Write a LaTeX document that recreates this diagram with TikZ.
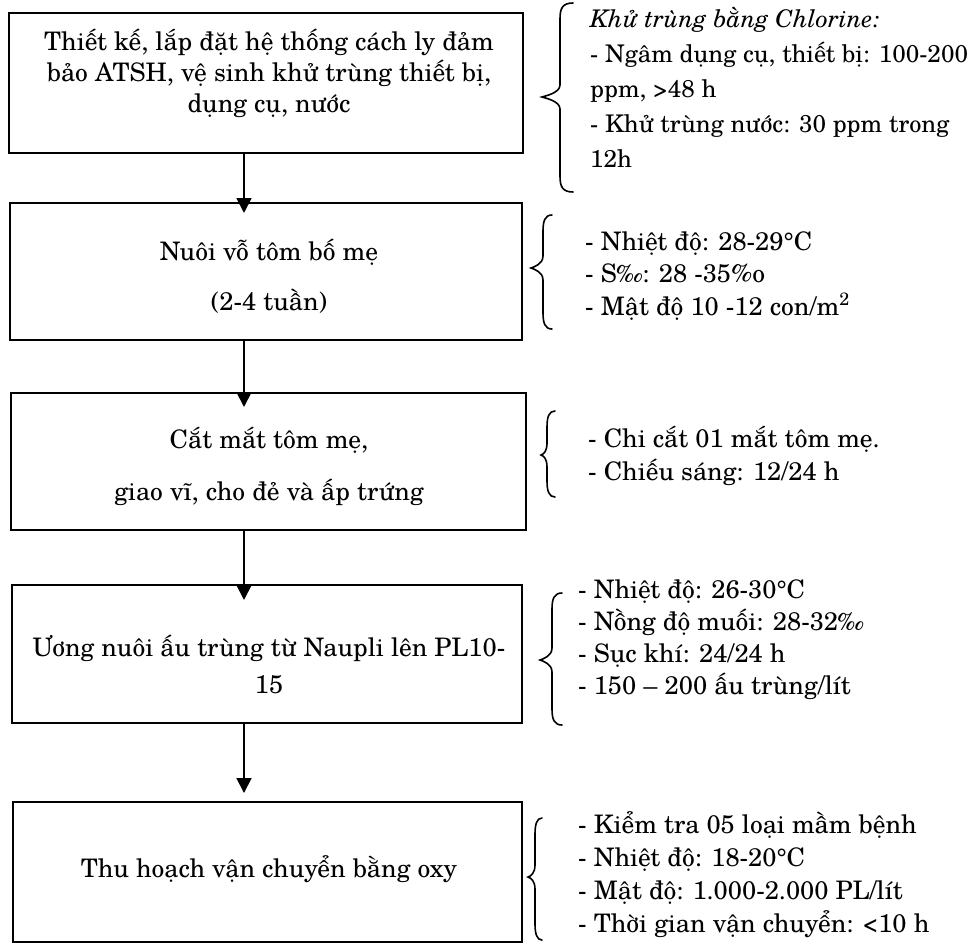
\documentclass[tikz,border=0pt]{standalone}
\usepackage{fontspec}
\setmainfont{TeX Gyre Schola}
\usetikzlibrary{arrows.meta}
\begin{document}
\begin{tikzpicture}[x=1pt,y=-1pt,
  box/.style={draw, line width=2.4pt, inner sep=0pt},
  txt/.style={font=\fontsize{25.5}{31}\selectfont, align=center, anchor=base, inner sep=0pt},
  rt/.style={font=\fontsize{25.5}{#1}\selectfont, align=left, anchor=base west, inner sep=0pt},
  arr/.style={line width=1.8pt, -{Triangle[width=15pt,length=15pt]}},
  bracestyle/.style={line width=1.6pt, line cap=round},
  pics/cbrace/.style n args={6}{code={
    \draw[bracestyle] (#3,#4) .. controls (#2+2,#4) and (#2,#4+6) .. (#2,#4+16)
      -- (#2,#5-12)
      .. controls (#2,#5-4) and (#1+3,#5-1) .. (#1,#5)
      .. controls (#1+3,#5+1) and (#2,#5+4) .. (#2,#5+12)
      -- (#2,#6-16)
      .. controls (#2,#6-6) and (#2+2,#6) .. (#3,#6);
  }}]
\useasboundingbox (0,0) rectangle (973,945);

% boxes
\node[box, minimum width=514pt, minimum height=140pt] (b1) at (266,83) {};
\node[box, minimum width=512pt, minimum height=137pt] (b2) at (266,271.5) {};
\node[box, minimum width=515pt, minimum height=137pt] (b3) at (268.5,461.5) {};
\node[box, minimum width=510pt, minimum height=138pt] (b4) at (267,654) {};
\node[box, minimum width=509pt, minimum height=140pt] (b5) at (267.5,872) {};

% box texts (anchor = baseline of last line)
\node[txt] (t1) at (269,112) {Thiết kế, lắp đặt hệ thống cách ly đảm\\bảo ATSH, vệ sinh khử trùng thiết bị,\\dụng cụ, nước};
\node[txt] (t2) at (269,310) {Nuôi vỗ tôm bố mẹ\\[19pt](2-4 tuần)};
\node[txt] (t3) at (269,500) {Cắt mắt tôm mẹ,\\[21pt]giao vĩ, cho đẻ và ấp trứng};
\node[txt] (t4) at (269,693) {Ương nuôi ấu trùng từ Naupli lên PL10-\\[6pt]15};
\node[txt] (t5) at (269,877) {Thu hoạch vận chuyển bằng oxy};

% arrows
\coordinate (e1) at (244,213);
\coordinate (e2) at (244,407);
\coordinate (e3) at (244,600);
\coordinate (e4) at (244,793);
\draw[arr] (b1.south -| e1) -- (e1);
\draw[arr] (b2.south -| e2) -- (e2);
\draw[arr] (b3.south -| e3) -- (e3);
\draw[arr] (b4.south -| e4) -- (e4);

% braces
\pic at (0,0) {cbrace={542}{560}{573}{3}{97}{192}};
\pic at (0,0) {cbrace={531}{543}{552}{215}{268}{329}};
\pic at (0,0) {cbrace={541}{547}{555}{411}{455}{497}};
\pic at (0,0) {cbrace={540}{552}{562}{593}{660}{725}};
\pic at (0,0) {cbrace={528}{535}{542}{818}{877}{940}};

% side notes (anchor = baseline of last line)
\node[rt=35, font=\fontsize{24.3}{35}\selectfont] (n1) at (590,167) {{\itshape Khử trùng bằng Chlorine:}\\- Ngâm dụng cụ, thiết bị: 100-200\\ppm, >48 h\\- Khử trùng nước: 30 ppm trong\\12h};
\node[rt=32.5] (n2) at (585,315) {- Nhiệt độ: 28-29°C\\- S‰: 28 -35\%o\\- Mật độ 10 -12 con/m\textsuperscript{2}};
\node[rt=33] (n3) at (588,480) {- Chi cắt 01 mắt tôm mẹ.\\- Chiếu sáng: 12/24 h};
\node[rt=32] (n4) at (578,694) {- Nhiệt độ: 26-30°C\\- Nồng độ muối: 28-32‰\\- Sục khí: 24/24 h\\- 150 – 200 ấu trùng/lít};
\node[rt=33] (n5) at (578,932) {- Kiểm tra 05 loại mầm bệnh\\- Nhiệt độ: 18-20°C\\- Mật độ: 1.000-2.000 PL/lít\\- Thời gian vận chuyển: <10 h};
\end{tikzpicture}
\end{document}
